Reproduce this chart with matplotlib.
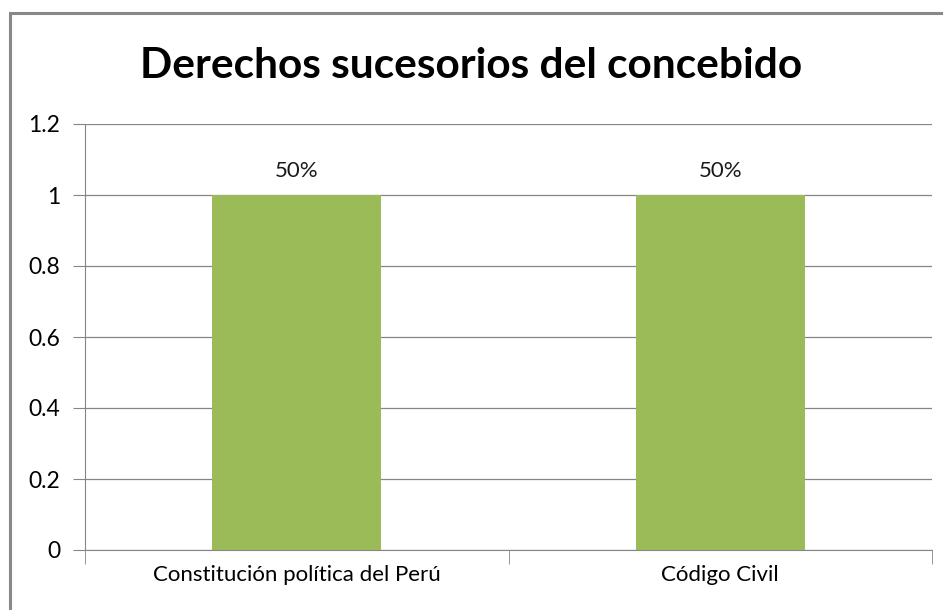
import matplotlib
matplotlib.use("Agg")
import matplotlib.pyplot as plt
from matplotlib.patches import Rectangle

categories = ["Constitución política del Perú", "Código Civil"]
values = [1, 1]
labels = ["50%", "50%"]
yticks = [0, 0.2, 0.4, 0.6, 0.8, 1, 1.2]
ytick_labels = ["0", "0.2", "0.4", "0.6", "0.8", "1", "1.2"]

BAR_COLOR = "#9bbb59"
GRID_COLOR = "#868686"
FONT = ["Lato", "DejaVu Sans"]

plt.rcParams["font.family"] = FONT

fig = plt.figure(figsize=(9.43, 6.10), dpi=100)
ax = fig.add_axes([85 / 943, 60 / 610, 847 / 943, 426 / 610])

# chart border (Excel-style, cut at right/bottom)
fig.patches.append(Rectangle((9.5 / 943, -0.05), 1.1, (610 - 12.5) / 610 + 0.05,
                             transform=fig.transFigure, fill=False,
                             edgecolor="#888888", linewidth=2.2, zorder=0))

x = range(len(categories))
ax.bar(x, values, width=0.4, color=BAR_COLOR, zorder=3)
for xi, v, lab in zip(x, values, labels):
    ax.text(xi, v + 0.04, lab, ha="center", va="bottom", fontsize=16, color="#1a1a1a")

ax.set_xlim(-0.5, len(categories) - 0.5)
ax.set_ylim(0, 1.2)
ax.set_yticks(yticks)
ax.set_yticklabels(ytick_labels, fontsize=16.5)
ax.yaxis.grid(True, color=GRID_COLOR, linewidth=0.9, zorder=0)
ax.set_axisbelow(True)

ax.set_xticks(list(x))
ax.set_xticklabels(categories, fontsize=16)
ax.set_xticks([-0.5, 0.5, 1.5], minor=True)
ax.tick_params(axis="x", which="major", length=0, pad=11)
ax.tick_params(axis="x", which="minor", length=10, color=GRID_COLOR, direction="out")
ax.tick_params(axis="y", length=9, color=GRID_COLOR, pad=9)

for side in ["top", "right"]:
    ax.spines[side].set_visible(False)
ax.spines["left"].set_color(GRID_COLOR)
ax.spines["bottom"].set_color(GRID_COLOR)

fig.text(0.5, 1 - 66 / 610, "Derechos sucesorios del concebido", ha="center",
         va="center", fontsize=30.5, fontweight="bold")

fig.savefig("out.png", dpi=100)
